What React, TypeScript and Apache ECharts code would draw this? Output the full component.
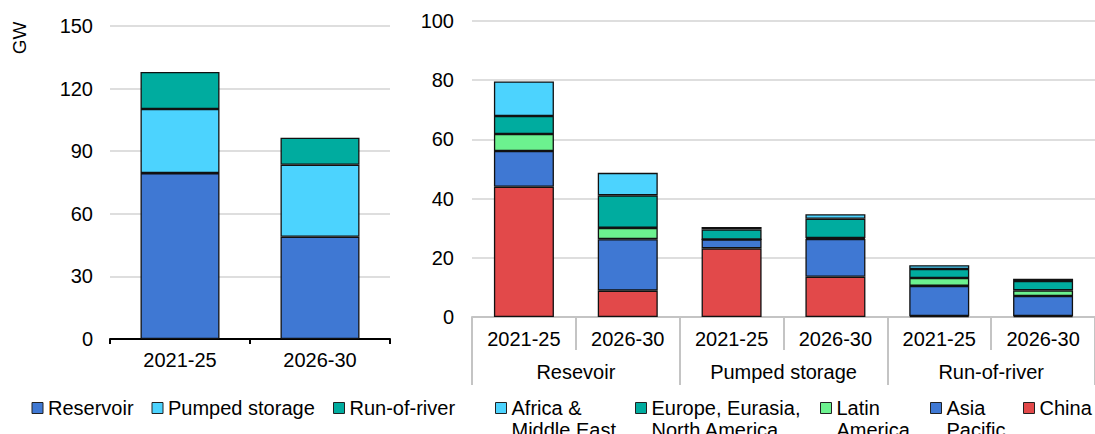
import React, { useEffect, useRef } from "react";
import * as echarts from "echarts";

const leftCats = ["2021-25", "2026-30"];
const reservoirL = [79.5, 49];
const pumpedL = [30.7, 34.5];
const rorL = [17.8, 13];

const rightCats = ["2021-25", "2026-30", "2021-25", "2026-30", "2021-25", "2026-30"];
const groupCats = ["Resevoir", "Pumped storage", "Run-of-river"];
const china = [44, 8.9, 23.2, 13.6, 0.3, 0.3];
const asia = [12.1, 17.4, 3, 12.8, 10.2, 6.8];
const latin = [5.7, 3.8, 0, 0.3, 2.7, 1.9];
const europe = [6.1, 11, 3.4, 6.5, 3, 3.2];
const africa = [11.7, 7.6, 0.8, 1.5, 1.3, 0.7];

const leftTicks = [0, 30, 60, 90, 120, 150];
const rightTicks = [0, 20, 40, 60, 80, 100];

const C = {
  blue: "#3f78d3",
  cyan: "#4cd3fe",
  teal: "#00ac9f",
  green: "#6cf28f",
  red: "#e2494a",
};

const FONT = "Liberation Sans, Arial, sans-serif";

export default function App() {
  const ref = useRef<HTMLDivElement>(null);
  useEffect(() => {
    if (!ref.current) return;
    const chart = echarts.init(ref.current, undefined, { renderer: "svg" });
    const border = { borderColor: "#111", borderWidth: 1.3 };
    const gridLine = { show: true, lineStyle: { color: "#dedede", width: 2 } };
    const grey = "#c4c4c4";

    const mkBar = (name: string, data: number[], color: string, stack: string, xi: number, yi: number, bw: number) => ({
      type: "bar",
      name,
      data,
      stack,
      xAxisIndex: xi,
      yAxisIndex: yi,
      barWidth: bw,
      itemStyle: { color, ...border },
    });

    const legendItems = [
      { name: "Reservoir", left: 31.5, multi: false },
      { name: "Pumped storage", left: 151.5, multi: false },
      { name: "Run-of-river", left: 333, multi: false },
      { name: "Africa &\nMiddle East", left: 495, multi: true },
      { name: "Europe, Eurasia,\nNorth America", left: 635, multi: true },
      { name: "Latin\nAmerica", left: 820, multi: true },
      { name: "Asia\nPacific", left: 930, multi: true },
      { name: "China", left: 1023, multi: false },
    ];

    const legends = legendItems.map((it) => ({
      data: [it.name],
      left: it.left,
      top: it.multi ? 375 : 397,
      padding: 0,
      itemWidth: 11,
      itemHeight: 11,
      icon: "rect",
      itemStyle: { borderColor: "#222", borderWidth: 1 },
      formatter: it.multi ? (n: string) => "\n" + n : undefined,
      textStyle: {
        fontSize: 20,
        fontFamily: FONT,
        color: "#000",
        lineHeight: 22,
      },
      selectedMode: false,
    }));

    chart.setOption({
      animation: false,
      textStyle: { fontFamily: FONT },
      grid: [
        { left: 110, right: 705, top: 26, bottom: 95 },
        { left: 472, right: 0, top: 21, bottom: 117 },
      ],
      xAxis: [
        {
          type: "category",
          gridIndex: 0,
          data: leftCats,
          axisLine: { lineStyle: { color: "#000", width: 2 } },
          axisTick: { show: true, length: 5, lineStyle: { color: "#000", width: 2 } },
          axisLabel: { fontSize: 20, color: "#000", margin: 11, fontFamily: FONT },
        },
        {
          type: "category",
          gridIndex: 1,
          data: rightCats,
          axisLine: { lineStyle: { color: grey, width: 2 } },
          axisTick: { show: true, length: 33, interval: 0, lineStyle: { color: grey, width: 2 } },
          axisLabel: { fontSize: 20, color: "#000", margin: 12, interval: 0, fontFamily: FONT },
        },
        {
          type: "category",
          gridIndex: 1,
          position: "bottom",
          data: groupCats,
          axisLine: { show: false },
          axisTick: { show: true, length: 68, interval: 0, lineStyle: { color: grey, width: 2 } },
          axisLabel: { fontSize: 20, color: "#000", margin: 45, interval: 0, fontFamily: FONT },
          splitLine: { show: false },
        },
      ],
      yAxis: [
        {
          type: "value",
          gridIndex: 0,
          min: leftTicks[0],
          max: leftTicks[leftTicks.length - 1],
          interval: leftTicks[1] - leftTicks[0],
          axisLine: { show: false },
          axisTick: { show: false },
          splitLine: gridLine,
          axisLabel: { fontSize: 20, color: "#000", margin: 17, fontFamily: FONT },
        },
        {
          type: "value",
          gridIndex: 1,
          min: rightTicks[0],
          max: rightTicks[rightTicks.length - 1],
          interval: rightTicks[1] - rightTicks[0],
          axisLine: { show: false },
          axisTick: { show: false },
          splitLine: gridLine,
          axisLabel: { fontSize: 20, color: "#000", margin: 18, fontFamily: FONT },
        },
      ],
      legend: legends,
      graphic: [
        {
          type: "text",
          x: 19,
          y: 38,
          rotation: Math.PI / 2,
          style: {
            text: "GW",
            fontSize: 19,
            fontFamily: FONT,
            fill: "#000",
            align: "center",
            verticalAlign: "middle",
          },
        },
      ],
      series: [
        mkBar("Reservoir", reservoirL, C.blue, "L", 0, 0, 79),
        mkBar("Pumped storage", pumpedL, C.cyan, "L", 0, 0, 79),
        mkBar("Run-of-river", rorL, C.teal, "L", 0, 0, 79),
        mkBar("China", china, C.red, "R", 1, 1, 60),
        mkBar("Asia\nPacific", asia, C.blue, "R", 1, 1, 60),
        mkBar("Latin\nAmerica", latin, C.green, "R", 1, 1, 60),
        mkBar("Europe, Eurasia,\nNorth America", europe, C.teal, "R", 1, 1, 60),
        mkBar("Africa &\nMiddle East", africa, C.cyan, "R", 1, 1, 60),
      ],
    });
    return () => chart.dispose();
  }, []);
  return (
    <div
      ref={ref}
      style={{ position: "fixed", left: 0, top: 0, width: 1095, height: 434, background: "#fff" }}
    />
  );
}
